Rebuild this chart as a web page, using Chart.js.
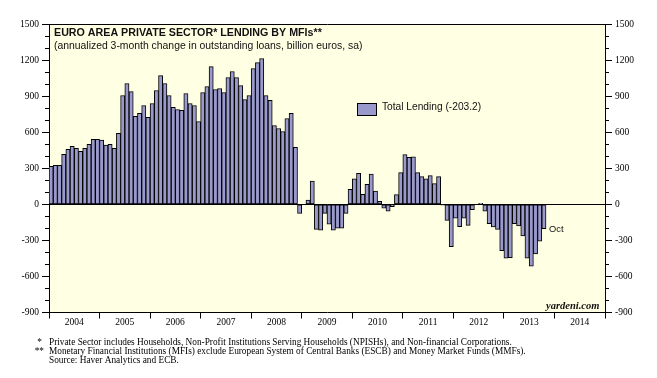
<!DOCTYPE html>
<html><head><meta charset="utf-8">
<script src="https://cdn.jsdelivr.net/npm/chart.js@4/dist/chart.umd.min.js"></script>
<style>html,body{margin:0;padding:0;background:#fff}#wrap{position:relative;width:657px;height:378px}</style>
</head><body><div id="wrap"><canvas id="c" width="657" height="378"></canvas></div>
<script>
const years = ['2004','2005','2006','2007','2008','2009','2010','2011','2012','2013','2014'];
const monthNames = ['Jan','Feb','Mar','Apr','May','Jun','Jul','Aug','Sep','Oct','Nov','Dec'];
const v2004 = [315, 325, 325, 415, 457, 482, 465, 440, 465, 498, 540, 540];
const v2005 = [534, 492, 498, 465, 590, 905, 1005, 938, 731, 756, 822, 723];
const v2006 = [839, 947, 1071, 1005, 905, 806, 789, 781, 922, 839, 822, 689];
const v2007 = [930, 980, 1146, 955, 963, 930, 1055, 1105, 1055, 988, 872, 905];
const v2008 = [1130, 1179, 1213, 905, 864, 656, 631, 606, 714, 756, 473, -75];
const v2009 = [0, 36, 194, -208, -216, -75, -166, -216, -199, -199, -75, 125];
const v2010 = [211, 258, 83, 166, 252, 111, 25, -33, -58, -19, 80, 263];
const v2011 = [413, 391, 396, 263, 230, 211, 238, 172, 230, -8, -133, -352];
const v2012 = [-116, -186, -116, -175, -44, 0, 8, -58, -161, -188, -208, -385];
const v2013 = [-449, -443, -161, -180, -263, -449, -515, -413, -307, -203.2];
const yTicksMajor = [-900, -600, -300, 0, 300, 600, 900, 1200, 1500];
const seriesName = 'Total Lending';
const lastMonthLabel = 'Oct';

const labels = [];
years.forEach(y => monthNames.forEach(m => labels.push(m + ' ' + y)));
const values = [].concat(v2004, v2005, v2006, v2007, v2008, v2009, v2010, v2011, v2012, v2013);
const data = labels.map((l, i) => i < values.length ? values[i] : null);
const lastIdx = values.length - 1;
const lastVal = values[lastIdx];

const BAR = '#9999CC';
const SERIF = "'Liberation Serif','Times New Roman',serif";
const SANS = "'Liberation Sans',Arial,sans-serif";

const decor = {
  id: 'decor',
  beforeDraw(chart) {
    const {ctx, chartArea: a} = chart;
    ctx.save();
    ctx.fillStyle = '#fff';
    ctx.fillRect(0, 0, chart.width, chart.height);
    ctx.fillStyle = '#FFFFE3';
    ctx.fillRect(a.left, a.top, a.right - a.left, a.bottom - a.top);
    ctx.restore();
  },
  afterDraw(chart) {
    const {ctx, chartArea: a, scales} = chart;
    const ys = scales.y, xs = scales.x;
    ctx.save();
    // minor ticks
    ctx.strokeStyle = '#000'; ctx.lineWidth = 1;
    ctx.beginPath();
    for (let v = -900; v <= 1500; v += 100) {
      if (yTicksMajor.includes(v)) continue;
      const p = Math.round(ys.getPixelForValue(v)) + 0.5;
      ctx.moveTo(Math.round(a.left) - 4, p); ctx.lineTo(Math.round(a.left), p);
      ctx.moveTo(Math.round(a.right), p); ctx.lineTo(Math.round(a.right) + 4, p);
    }
    ctx.stroke();
    // title
    ctx.fillStyle = '#111';
    ctx.textBaseline = 'middle';
    ctx.textAlign = 'left';
    ctx.font = 'bold 10.7px ' + SANS;
    ctx.fillText('EURO AREA PRIVATE SECTOR* LENDING BY MFIs**', 54, 33.5);
    ctx.font = '10.4px ' + SANS;
    ctx.fillText('(annualized 3-month change in outstanding loans, billion euros, sa)', 54, 46);
    // legend
    ctx.fillStyle = BAR;
    ctx.fillRect(357.5, 103.5, 19, 12);
    ctx.strokeStyle = '#000';
    ctx.strokeRect(357.5, 103.5, 19, 12);
    ctx.fillStyle = '#111';
    ctx.font = '10.2px ' + SANS;
    ctx.fillText(seriesName + ' (' + lastVal.toFixed(1) + ')', 382, 107.5);
    // Oct label
    const slot = (a.right - a.left) / labels.length;
    const bx = xs.getPixelForValue(lastIdx) + slot / 2 + 3;
    ctx.font = '9.3px ' + SANS;
    ctx.fillText(lastMonthLabel, bx, ys.getPixelForValue(lastVal) + 0.5);
    // yardeni.com
    ctx.font = 'bold italic 10.5px ' + SERIF;
    ctx.fillText('yardeni.com', 546, 306.5);
    // footnotes
    ctx.font = '9.3px ' + SERIF;
    ctx.fillStyle = '#000';
    ctx.textAlign = 'right';
    ctx.fillText('*', 42, 343);
    ctx.fillText('**', 44, 352);
    ctx.textAlign = 'left';
    ctx.fillText('Private Sector includes Households, Non-Profit Institutions Serving Households (NPISHs), and Non-financial Corporations.', 49, 342.3);
    ctx.fillText('Monetary Financial Institutions (MFIs) exclude European System of Central Banks (ESCB) and Money Market Funds (MMFs).', 49, 351.3);
    ctx.fillText('Source: Haver Analytics and ECB.', 49, 360.7);
    ctx.restore();
  }
};

const yTickFont = {family: SERIF, size: 9.5};
const majorTick = ctx => (ctx.tick && yTicksMajor.includes(ctx.tick.value)) ? '#000' : 'rgba(0,0,0,0)';

new Chart(document.getElementById('c'), {
  type: 'bar',
  data: {
    labels: labels,
    datasets: [{
      label: seriesName,
      data: data,
      backgroundColor: BAR,
      borderColor: '#000',
      borderWidth: 1,
      borderSkipped: false,
      barPercentage: 1,
      categoryPercentage: 1,
      yAxisID: 'y'
    }]
  },
  options: {
    responsive: false,
    animation: false,
    devicePixelRatio: 1,
    layout: {padding: {top: 24, left: 0, right: 0, bottom: 0}},
    plugins: {legend: {display: false}, tooltip: {enabled: false}},
    scales: {
      x: {
        type: 'category',
        offset: true,
        grid: {
          offset: true,
          drawOnChartArea: false,
          drawTicks: true,
          tickLength: 6,
          color: 'rgba(0,0,0,0)',
          tickColor: ctx => (ctx.index === undefined || ctx.index % 12 === 0) ? '#000' : 'rgba(0,0,0,0)'
        },
        border: {display: true, color: '#000', width: 1},
        ticks: {
          autoSkip: false, maxRotation: 0, minRotation: 0,
          padding: -2,
          labelOffset: -2.1,
          color: '#000',
          font: {family: SERIF, size: 9.5},
          callback: (v, i) => (i % 12 === 6) ? labels[i].split(' ')[1] : ''
        },
        afterFit: s => { s.height = 65.5; }
      },
      y: {
        position: 'left',
        min: -900, max: 1500,
        ticks: {stepSize: 100, autoSkip: false, padding: 3, color: '#000', font: yTickFont,
          callback: v => yTicksMajor.includes(v) ? String(v) : ''},
        grid: {
          drawOnChartArea: true,
          tickLength: 7,
          color: ctx => (ctx.tick && (ctx.tick.value === 0 || ctx.tick.value === 1500)) ? '#000' : 'rgba(0,0,0,0)',
          tickColor: majorTick
        },
        border: {display: true, color: '#000'},
        afterFit: s => { s.width = 49; }
      },
      y2: {
        position: 'right',
        min: -900, max: 1500,
        ticks: {stepSize: 100, autoSkip: false, padding: 3, color: '#000', font: yTickFont,
          callback: v => yTicksMajor.includes(v) ? String(v) : ''},
        grid: {drawOnChartArea: false, tickLength: 7, tickColor: majorTick},
        border: {display: true, color: '#000'},
        afterFit: s => { s.width = 52; }
      }
    }
  },
  plugins: [decor]
});
</script>
</body></html>
